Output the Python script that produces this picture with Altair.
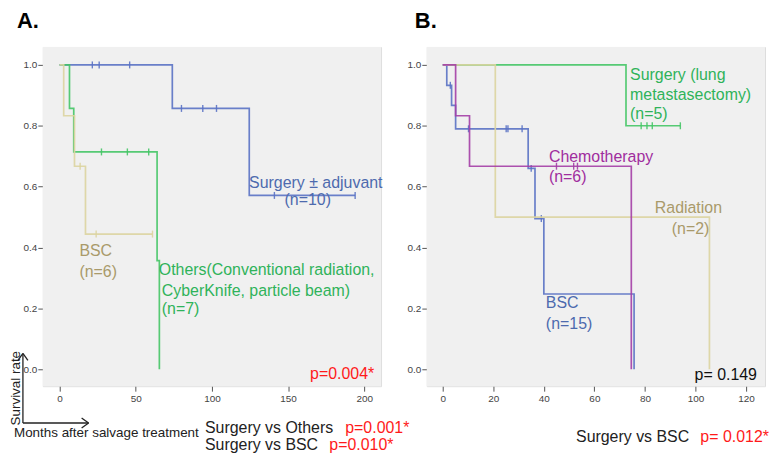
import altair as alt
import pandas as pd

FONT = "Liberation Sans"

# ---------------- Panel A data ----------------
a_surg_t = [0, 74, 124.5, 194]
a_surg_s = [1.0, 0.857, 0.571, 0.571]
a_surg_c = [21.5, 26, 46, 80, 94, 103, 141, 194]

a_oth_t = [0, 6.5, 9.3, 64, 65.5]
a_oth_s = [1.0, 0.857, 0.714, 0.357, 0.0]
a_oth_c = [27.5, 44.5, 58.5]

a_bsc_t = [0, 2.7, 9.8, 17, 61]
a_bsc_s = [1.0, 0.833, 0.667, 0.444, 0.444]
a_bsc_c = [13.5, 24, 61]

# ---------------- Panel B data ----------------
b_surg_t = [0, 72.5, 94]
b_surg_s = [1.0, 0.8, 0.8]
b_surg_c = [78.5, 80.8, 82.9, 94]

b_chemo_t = [0, 5.1, 10.6, 74.6]
b_chemo_s = [1.0, 0.833, 0.667, 0.0]
b_chemo_c = [45, 51.8, 53.3]

b_rad_t = [0, 20.8, 105.5]
b_rad_s = [1.0, 0.5, 0.0]
b_rad_c = []

b_bsc_t = [0, 1.6, 3.5, 5.1, 33.8, 36.5, 40, 75.7]
b_bsc_s = [1.0, 0.933, 0.867, 0.79, 0.66, 0.495, 0.247, 0.0]
b_bsc_c = [3.0, 10.2, 25.1, 25.8, 31.4, 35, 39]

a_xticks = [0, 50, 100, 150, 200]
b_xticks = [0, 20, 40, 60, 80, 100, 120]
y_ticks = [0.0, 0.2, 0.4, 0.6, 0.8, 1.0]

BLUE, BLUE_T = "#5a72c4", "#4d6aae"
GREEN, GREEN_T = "#45c566", "#2fb35a"
TAN, TAN_T = "#dcd4a0", "#a99a6a"
PURPLE, PURPLE_T = "#a43ea6", "#a02d9e"
RED = "#ff1a1a"

Y_DOM = [-0.056, 1.059]
A_DOM = [-11, 211]
B_DOM = [-6.3, 127.5]
W, H = 340, 341


def step_value(times, surv, t):
    v = surv[0]
    for ti, si in zip(times, surv):
        if ti <= t:
            v = si
    return v


def xenc(dom, ticks):
    return alt.X("t:Q", scale=alt.Scale(domain=dom, nice=False, zero=False),
                 axis=alt.Axis(values=ticks, title=None, grid=False, domain=False,
                               tickSize=5, labelPadding=2, labelFontSize=10,
                               labelColor="#444", tickColor="#555", labelFont=FONT))


def yenc():
    return alt.Y("s:Q", scale=alt.Scale(domain=Y_DOM, nice=False, zero=False),
                 axis=alt.Axis(values=y_ticks, format=".1f", title=None, grid=False,
                               domain=False, tickSize=5, labelPadding=1,
                               labelFontSize=10, labelColor="#444", tickColor="#555",
                               labelFont=FONT))


def background():
    df = pd.DataFrame({"k": [0]})
    return alt.Chart(df).mark_rect(color="#f0f0f0").encode(
        x=alt.value(0), x2=alt.value(W), y=alt.value(0), y2=alt.value(H))


def curve(times, surv, cens, color, dom, ticks):
    df = pd.DataFrame({"t": times, "s": surv})
    line = alt.Chart(df).mark_line(interpolate="step-after", color=color,
                                   strokeWidth=1.7, opacity=0.9).encode(
        x=xenc(dom, ticks), y=yenc())
    layers = [line]
    if cens:
        cdf = pd.DataFrame({"t": cens, "s": [step_value(times, surv, c) for c in cens]})
        layers.append(alt.Chart(cdf).mark_tick(orient="vertical", size=7, thickness=1.4,
                                               color=color, opacity=0.9).encode(
            x=xenc(dom, ticks), y=yenc()))
    return layers


def label(texts, xs, ys, color, dom, ticks, align="left", size=16, baseline="middle"):
    df = pd.DataFrame({"t": xs, "s": ys, "txt": texts})
    return alt.Chart(df).mark_text(align=align, baseline=baseline, fontSize=size,
                                   color=color, font=FONT).encode(
        x=xenc(dom, ticks), y=yenc(), text="txt:N")


def ptext(txt, dx, dy, color="#222", size=16, align="left", baseline="middle",
          weight="normal", angle=0):
    df = pd.DataFrame({"txt": [txt]})
    return alt.Chart(df).mark_text(align=align, baseline=baseline, fontSize=size,
                                   color=color, font=FONT, fontWeight=weight,
                                   angle=angle).encode(
        x=alt.value(dx), y=alt.value(dy), text="txt:N")


def seg(x1, y1, x2, y2, color="#222", w=1.3):
    df = pd.DataFrame({"k": [0]})
    return alt.Chart(df).mark_rule(color=color, strokeWidth=w).encode(
        x=alt.value(x1), y=alt.value(y1), x2=alt.value(x2), y2=alt.value(y2))


# ---------------- Panel A ----------------
layersA = [background()]
layersA += curve(a_surg_t, a_surg_s, a_surg_c, BLUE, A_DOM, a_xticks)
layersA += curve(a_oth_t, a_oth_s, a_oth_c, GREEN, A_DOM, a_xticks)
layersA += curve(a_bsc_t, a_bsc_s, a_bsc_c, TAN, A_DOM, a_xticks)
layersA += [
    label(["Surgery ± adjuvant"], [124.4], [0.611], BLUE_T, A_DOM, a_xticks),
    label(["(n=10)"], [162.9], [0.556], BLUE_T, A_DOM, a_xticks, align="center"),
    label(["BSC", "(n=6)"], [13.0, 13.0], [0.389, 0.320], TAN_T, A_DOM, a_xticks),
    label(["Others(Conventional radiation,", "CyberKnife, particle beam)", "(n=7)"],
          [65.1, 67.1, 67.1], [0.327, 0.258, 0.196], GREEN_T, A_DOM, a_xticks),
    label(["p=0.004*"], [206.5], [-0.016], RED, A_DOM, a_xticks, align="right"),
    ptext("A.", -26, -19, color="#000", size=22, baseline="alphabetic", weight="bold"),
    ptext("Survival rate", -27, 343, size=13.5, align="center", angle=270),
    seg(-20, 309, -20, 378), seg(-20, 308, -25, 315), seg(-20, 308, -15, 315),
    seg(-20, 378, 46, 378), seg(46, 378, 39, 373), seg(46, 378, 39, 383),
    ptext("Months after salvage treatment", -29, 388, size=13.5),
    ptext("Surgery vs Others", 163, 383, size=16),
    ptext("p=0.001*", 304, 383, color=RED, size=16),
    ptext("Surgery vs BSC", 163, 400, size=16),
    ptext("p=0.010*", 288, 400, color=RED, size=16),
]
panelA = alt.layer(*layersA).properties(width=W, height=H)

# ---------------- Panel B ----------------
layersB = [background()]
layersB += curve(b_surg_t, b_surg_s, b_surg_c, GREEN, B_DOM, b_xticks)
layersB += curve(b_bsc_t, b_bsc_s, b_bsc_c, BLUE, B_DOM, b_xticks)
layersB += curve(b_rad_t, b_rad_s, b_rad_c, TAN, B_DOM, b_xticks)
layersB += curve(b_chemo_t, b_chemo_s, b_chemo_c, PURPLE, B_DOM, b_xticks)
layersB += [
    label(["Surgery (lung", "metastasectomy)", "(n=5)"], [74.1, 74.1, 74.1],
          [0.967, 0.902, 0.840], GREEN_T, B_DOM, b_xticks),
    label(["Chemotherapy", "(n=6)"], [42.0, 42.0], [0.696, 0.631], PURPLE_T, B_DOM, b_xticks),
    label(["Radiation"], [83.9], [0.529], TAN_T, B_DOM, b_xticks),
    label(["(n=2)"], [90.6], [0.461], TAN_T, B_DOM, b_xticks),
    label(["BSC", "(n=15)"], [40.8, 40.8], [0.216, 0.147], BLUE_T, B_DOM, b_xticks),
    label(["p= 0.149"], [124.3], [-0.020], "#111", B_DOM, b_xticks, align="right"),
    ptext("B.", -12, -19, color="#000", size=22, baseline="alphabetic", weight="bold"),
    ptext("Surgery vs BSC", 150, 392, size=16),
    ptext("p= 0.012*", 275, 392, color=RED, size=16),
]
panelB = alt.layer(*layersB).properties(width=W, height=H)

chart = alt.hconcat(panelA, panelB, spacing=46).properties(
    bounds="flush", padding=0
).configure_view(
    fill="#f0f0f0", stroke="#5a5a5a", strokeWidth=1.6
).configure(font=FONT, background="#ffffff")

chart.save("out.html", embed_options={"renderer": "svg", "actions": False})
